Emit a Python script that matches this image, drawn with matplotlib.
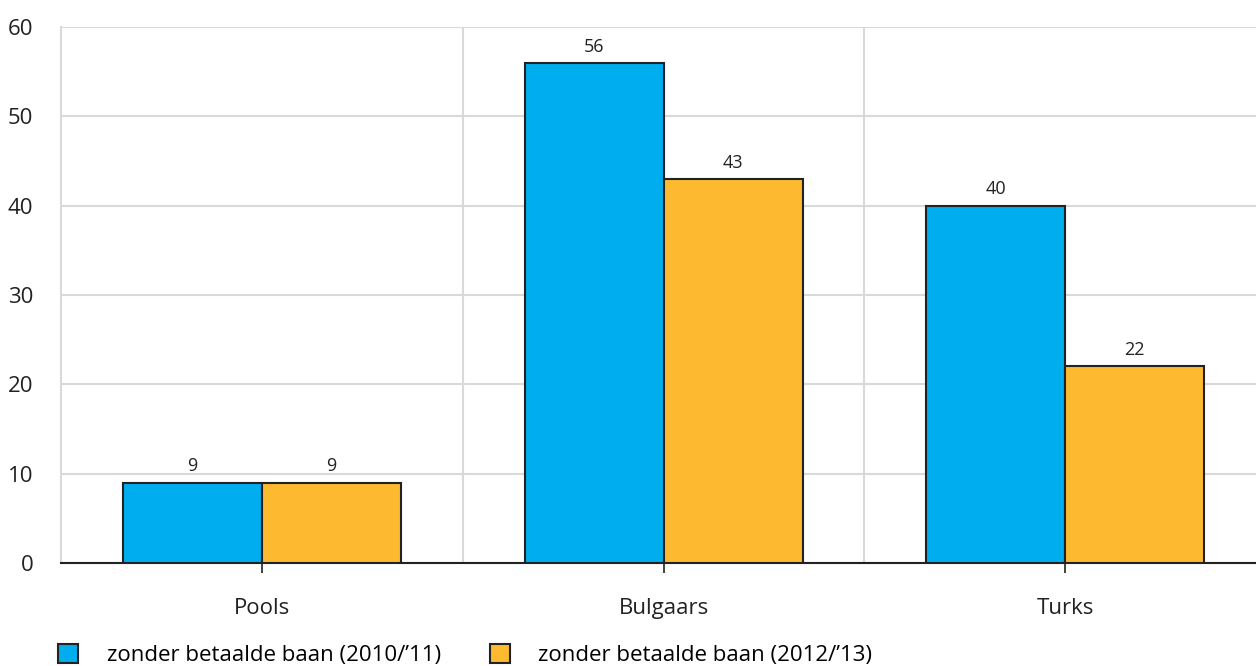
import matplotlib.pyplot as plt
import matplotlib.patches as mpatches
import numpy as np

plt.rcParams['font.family'] = ['Open Sans', 'DejaVu Sans']

groepen = ['Pools', 'Bulgaars', 'Turks']
reeks_2010 = [9, 56, 40]
reeks_2012 = [9, 43, 22]
namen = ["zonder betaalde baan (2010/\u201911)", "zonder betaalde baan (2012/\u201913)"]
kleuren = ['#00ADEE', '#FDBA30']

fig = plt.figure(figsize=(12.56, 6.66), dpi=100)
ax = fig.add_axes([0.0486, 0.1547, 0.9514, 0.8048])

x = np.arange(len(groepen))
w = 0.346
b1 = ax.bar(x - w / 2, reeks_2010, w, color=kleuren[0], edgecolor='#222222', linewidth=1.5, zorder=3)
b2 = ax.bar(x + w / 2, reeks_2012, w, color=kleuren[1], edgecolor='#222222', linewidth=1.5, zorder=3)

for bars, vals in [(b1, reeks_2010), (b2, reeks_2012)]:
    for r, v in zip(bars, vals):
        ax.text(r.get_x() + r.get_width() / 2, v + 0.8, str(v), ha='center', va='bottom',
                fontsize=13, color='#222222')

ax.set_xlim(-0.5, 2.475)
ax.set_ylim(0, 60)
ax.set_yticks(range(0, 61, 10))
ax.set_xticks(x)
ax.set_xticklabels(groepen)
ax.yaxis.grid(True, color='#d9d9d9', linewidth=1.5, zorder=0)
for xv in [0.5, 1.5]:
    ax.axvline(xv, color='#d9d9d9', linewidth=1.5, zorder=0)

for s in ['top', 'right']:
    ax.spines[s].set_visible(False)
ax.spines['left'].set_color('#d9d9d9')
ax.spines['left'].set_linewidth(1.5)
ax.spines['bottom'].set_color('#222222')
ax.spines['bottom'].set_linewidth(1.5)
ax.tick_params(axis='y', length=0, labelsize=16, pad=20, colors='#222222')
ax.tick_params(axis='x', length=7, width=1.2, labelsize=16, pad=18, colors='#222222')

handles = [mpatches.Patch(facecolor=kleuren[i], edgecolor='#222222', linewidth=1.5) for i in range(2)]
fig.legend(handles, namen, loc='lower left', bbox_to_anchor=(0.03, -0.03), ncol=2, frameon=False,
           fontsize=16, handlelength=0.9, handleheight=0.9, columnspacing=2.2, handletextpad=1.3)

fig.savefig('out.png', dpi=100)
